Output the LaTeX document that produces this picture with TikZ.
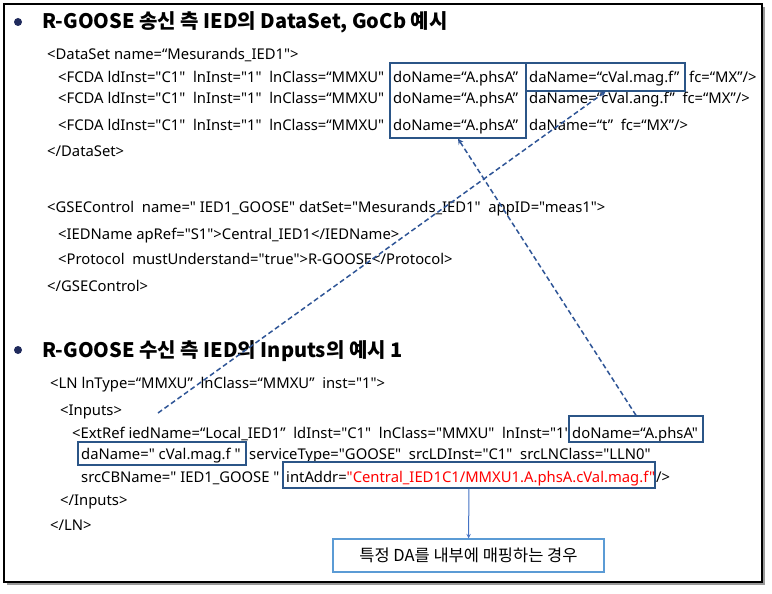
\documentclass[tikz,border=0pt]{standalone}
\usepackage{fontspec}
\setmainfont{Noto Sans}[Ligatures=TeXOff]
\newfontfamily\kr{Noto Sans CJK KR}
\usetikzlibrary{arrows}
\usetikzlibrary{positioning,fit}
\definecolor{navy}{HTML}{1F2A5C}
\definecolor{boxblue}{HTML}{2B5587}
\definecolor{linkblue}{HTML}{2F5597}
\definecolor{downblue}{HTML}{4472C4}
\definecolor{noteblue}{HTML}{5B9BD5}

\begin{document}
\begin{tikzpicture}[x=1pt,y=-1pt,>=stealth,
  every node/.style={font=\fontsize{14.8}{18}\selectfont,inner sep=0pt,anchor=base west},
  title/.style={font=\kr\bfseries\fontsize{20}{24}\selectfont},
  dot/.style={circle,fill=navy,minimum size=8pt,anchor=center},
  hl/.style={draw=boxblue,line width=1.3pt,inner sep=0pt,anchor=center},
  note/.style={draw=noteblue,line width=1.2pt,fill=white,anchor=center,minimum width=271pt,minimum height=33pt,font=\kr\fontsize{16.5}{20}\selectfont},
  link/.style={->,draw=linkblue,dash pattern=on 5pt off 3pt,line width=1.5pt}]

\useasboundingbox (0,0) rectangle (772,594);
\fill[black!40] (7,7) rectangle (765,585);
\draw[fill=white,line width=1.2pt] (4,4) rectangle (762,582);

% sending side
\node[dot] (d1) at (18,22) {};
\node[title] (t1) at (42,29) {R-GOOSE 송신 측 IED의 DataSet, GoCb 예시};
\node (ds) at (47,60) {<DataSet name=“Mesurands\_IED1">};
\node (f1) at (58,83) {<FCDA ldInst="C1"~ lnInst="1"~ lnClass=“MMXU"};
\node (f2) at (58,103) {<FCDA ldInst="C1"~ lnInst="1"~ lnClass=“MMXU"};
\node (f3) at (58,131) {<FCDA ldInst="C1"~ lnInst="1"~ lnClass=“MMXU"};
\node (do1) at (393,83) {doName=“A.phsA”};
\node (do2) at (393,103) {doName=“A.phsA”};
\node (do3) at (393,131) {doName=“A.phsA”};
\node (da1) at (529,83) {daName=“cVal.mag.f”};
\node (fc1) at (689,83) {fc=“MX”/>};
\node (da2) at (529,103) {daName=“cVal.ang.f”~ fc=“MX”/>};
\node (da3) at (529,131) {daName=“t”~ fc=“MX”/>};
\node (dse) at (47,157) {</DataSet>};
\node[hl,fit={(390,63) (526,138)}] (doA) {};
\node[hl,fit={(526,63) (685,91)}] (daA) {};

\node (gc) at (47,212) {<GSEControl~ name=" IED1\_GOOSE" datSet="Mesurands\_IED1"~ appID="meas1">};
\node (ied) at (58,239) {<IEDName apRef="S1">Central\_IED1</IEDName>};
\node (pr) at (58,264) {<Protocol~ mustUnderstand="true">R-GOOSE</Protocol>};
\node (gce) at (47,291) {</GSEControl>};

% receiving side
\node[dot] (d2) at (18,350) {};
\node[title] (t2) at (42,357) {R-GOOSE 수신 측 IED의 Inputs의 예시 1};
\node (ln) at (50,388) {<LN lnType=“MMXU”~ lnClass=“MMXU”~ inst="1">};
\node (in) at (60,415) {<Inputs>};
\node (er) at (72,438) {<ExtRef iedName=“Local\_IED1”~ ldInst="C1"~ lnClass="MMXU"~ lnInst="1"};
\node (edt) at (572,438) {doName=“A.phsA"};
\node (edat) at (81,459) {daName=" cVal.mag.f "};
\node (st) at (249,459) {serviceType="GOOSE"~ srcLDInst="C1"~ srcLNClass="LLN0"};
\node (cb) at (81,482) {srcCBName=" IED1\_GOOSE "};
\node (adt) at (286,482) {intAddr=\textcolor{red}{"Central\_IED1C1/MMXU1.A.phsA.cVal.mag.f"}};
\node (cl) at (656,482) {/>};
\node (ine) at (60,505) {</Inputs>};
\node (lne) at (50,530) {</LN>};
\node[hl,fit={(569,416) (703,442)}] (edo) {};
\node[hl,fit={(78,442) (246,465)}] (eda) {};
\node[hl,fit={(283,462) (655,488)}] (addr) {};
\node[note] (map) at (468.5,555.5) {특정 DA를 내부에 매핑하는 경우};

\coordinate (src) at (158,413);
\draw[->,draw=downblue,line width=1pt] (addr) -- (map);
\draw[link] (src) -- (daA.south);
\draw[link] (edo.north) -- (doA.south);
\end{tikzpicture}
\end{document}
